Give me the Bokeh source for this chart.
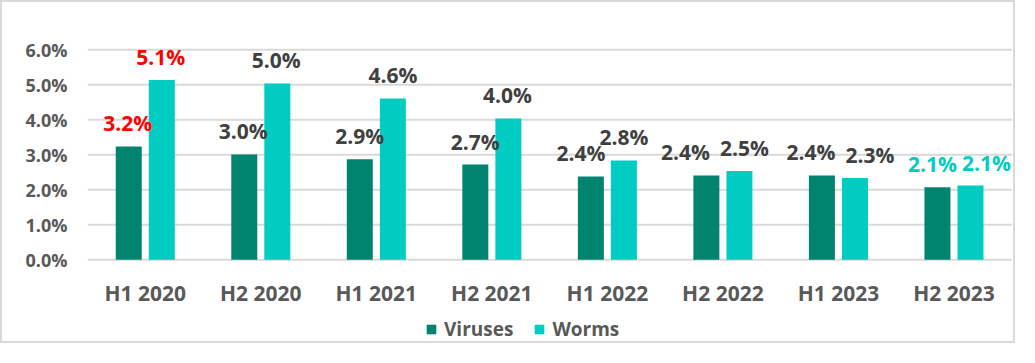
from bokeh.plotting import figure
from bokeh.models import (ColumnDataSource, Range1d, FixedTicker,
                          PrintfTickFormatter, Legend, LegendItem)
from bokeh.core.properties import value
from bokeh.embed import file_html
from bokeh.resources import INLINE

# ---- data ----
periods = ["H1 2020", "H2 2020", "H1 2021", "H2 2021",
           "H1 2022", "H2 2022", "H1 2023", "H2 2023"]
viruses = [3.24, 3.01, 2.87, 2.72, 2.38, 2.41, 2.41, 2.07]
worms = [5.14, 5.04, 4.61, 4.04, 2.84, 2.54, 2.34, 2.12]
y_ticks = [0, 1, 2, 3, 4, 5, 6]

# ---- styling ----
C_VIR = "#00846F"
C_WRM = "#00CCC1"
C_RED = "#FF0000"
C_LBL = "#404040"
C_AX = "#595959"
C_GRID = "#D9D9D9"
FONT = "Open Sans"
label_colors_v = [C_RED] + [C_LBL] * 6 + [C_WRM]
label_colors_w = [C_RED] + [C_LBL] * 6 + [C_WRM]
nudge_v = [-1, -1, 0, 0, -10, -21, -11, -5]
nudge_w = [-1, -1, 0, -1, 0, 5, 15, 16]

n = len(periods)
centers = [i + 0.5 for i in range(n)]
off = 0.143   # half distance between paired bars (category units)
bw = 0.225    # bar width (category units)

src = ColumnDataSource(dict(
    xv=[c - off for c in centers], xw=[c + off for c in centers],
    viruses=viruses, worms=worms,
    vlab=[f"{v:.1f}%" for v in viruses], wlab=[f"{v:.1f}%" for v in worms],
    vcol=label_colors_v, wcol=label_colors_w, vdx=nudge_v, wdx=nudge_w,
))
cat_src = ColumnDataSource(dict(x=centers, y=[0] * n, label=periods))

W, H = 1015, 343
p = figure(width=W, height=H, output_backend="svg", toolbar_location=None,
           x_range=Range1d(0, 8.05), y_range=Range1d(-2.449, 6.808),
           min_border_left=85, min_border_right=0,
           min_border_top=19, min_border_bottom=0,
           background_fill_color="white", border_fill_color="white",
           outline_line_color=None,
           styles={"border": "2px solid #d9d9d9"})

# horizontal gridlines spanning the categories
p.segment(x0=[0] * len(y_ticks), x1=[n] * len(y_ticks), y0=y_ticks, y1=y_ticks,
          line_color=C_GRID, line_width=2)

rv = p.vbar(x="xv", top="viruses", width=bw, source=src,
            fill_color=C_VIR, line_color=None)
rw = p.vbar(x="xw", top="worms", width=bw, source=src,
            fill_color=C_WRM, line_color=None)

# value labels above the bars
for xcol, ycol, tcol, ccol, dx in [("xv", "viruses", "vlab", "vcol", "vdx"),
                                    ("xw", "worms", "wlab", "wcol", "wdx")]:
    p.text(x=xcol, y=ycol, text=tcol, source=src,
           text_color=ccol, text_font=value(FONT), text_font_style="bold",
           text_font_size="21px", text_align="center", text_baseline="middle",
           x_offset=dx, y_offset=-23)

# category labels under the baseline
p.text(x="x", y="y", text="label", source=cat_src, text_color=C_AX,
       text_font=value(FONT), text_font_style="bold", text_font_size="21px",
       text_align="center", text_baseline="middle", y_offset=33)

# y axis
p.yaxis.ticker = FixedTicker(ticks=y_ticks)
p.yaxis.formatter = PrintfTickFormatter(format="%.1f%%")
ax = p.yaxis[0]
ax.axis_line_color = None
ax.major_tick_line_color = None
ax.minor_tick_line_color = None
ax.major_tick_out = 0
ax.major_tick_in = 0
ax.major_label_text_font = FONT
ax.major_label_text_font_style = "bold"
ax.major_label_text_color = C_AX
ax.major_label_text_font_size = "18px"
ax.major_label_standoff = 20
p.xaxis.visible = False

p.xgrid.grid_line_color = None
p.ygrid.grid_line_color = None

legend = Legend(items=[LegendItem(label="Viruses", renderers=[rv]),
                       LegendItem(label="Worms", renderers=[rw])],
                orientation="horizontal", location=(338, 3),
                padding=0, margin=0, spacing=20, label_standoff=7,
                glyph_width=12, glyph_height=12,
                border_line_color=None, background_fill_alpha=0,
                label_text_font=FONT, label_text_font_style="bold",
                label_text_font_size="19px", label_text_color=C_AX)
p.add_layout(legend, "center")

open("out.html", "w").write(file_html(p, INLINE))
